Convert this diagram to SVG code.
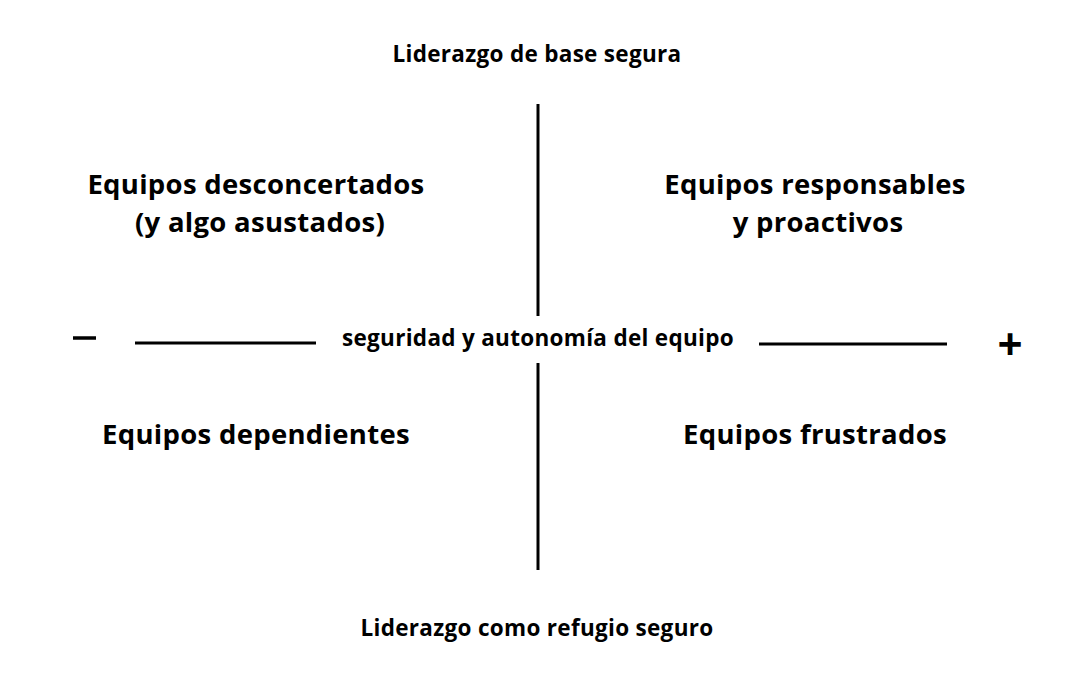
<svg xmlns="http://www.w3.org/2000/svg" width="1080" height="675" viewBox="0 0 1080 675">
<style>
text{font-family:"Open Sans","Liberation Sans",sans-serif;font-weight:700;fill:#000;text-anchor:middle}
.s{font-size:22.5px;letter-spacing:0.3px}
.q{font-size:27.5px;letter-spacing:0.3px}
line{stroke:#000;stroke-width:3}
</style>
<rect width="1080" height="675" fill="#fff"/>
<g id="connectors">
<line x1="538" y1="104" x2="538" y2="316"/>
<line x1="538" y1="363" x2="538" y2="570"/>
<line x1="135" y1="343" x2="316" y2="343"/>
<line x1="759" y1="344" x2="947" y2="344"/>
</g>
<g id="top"><text class="s" x="537" y="62">Liderazgo de base segura</text></g>
<g id="bottom"><text class="s" x="537" y="636">Liderazgo como refugio seguro</text></g>
<g id="axis"><text class="s" x="538" y="346">seguridad y autonomía del equipo</text></g>
<g id="minus"><line x1="73" y1="338" x2="96" y2="338" style="stroke-width:3.5"/></g>
<g id="plus"><text x="1010" y="360" style="font-size:44px">+</text></g>
<g id="q1"><text class="q" x="256" y="194">Equipos desconcertados</text><text class="q" x="260" y="232">(y algo asustados)</text></g>
<g id="q2"><text class="q" x="815" y="194">Equipos responsables</text><text class="q" x="818" y="232">y proactivos</text></g>
<g id="q3"><text class="q" x="256" y="444">Equipos dependientes</text></g>
<g id="q4"><text class="q" x="815" y="444">Equipos frustrados</text></g>
</svg>
